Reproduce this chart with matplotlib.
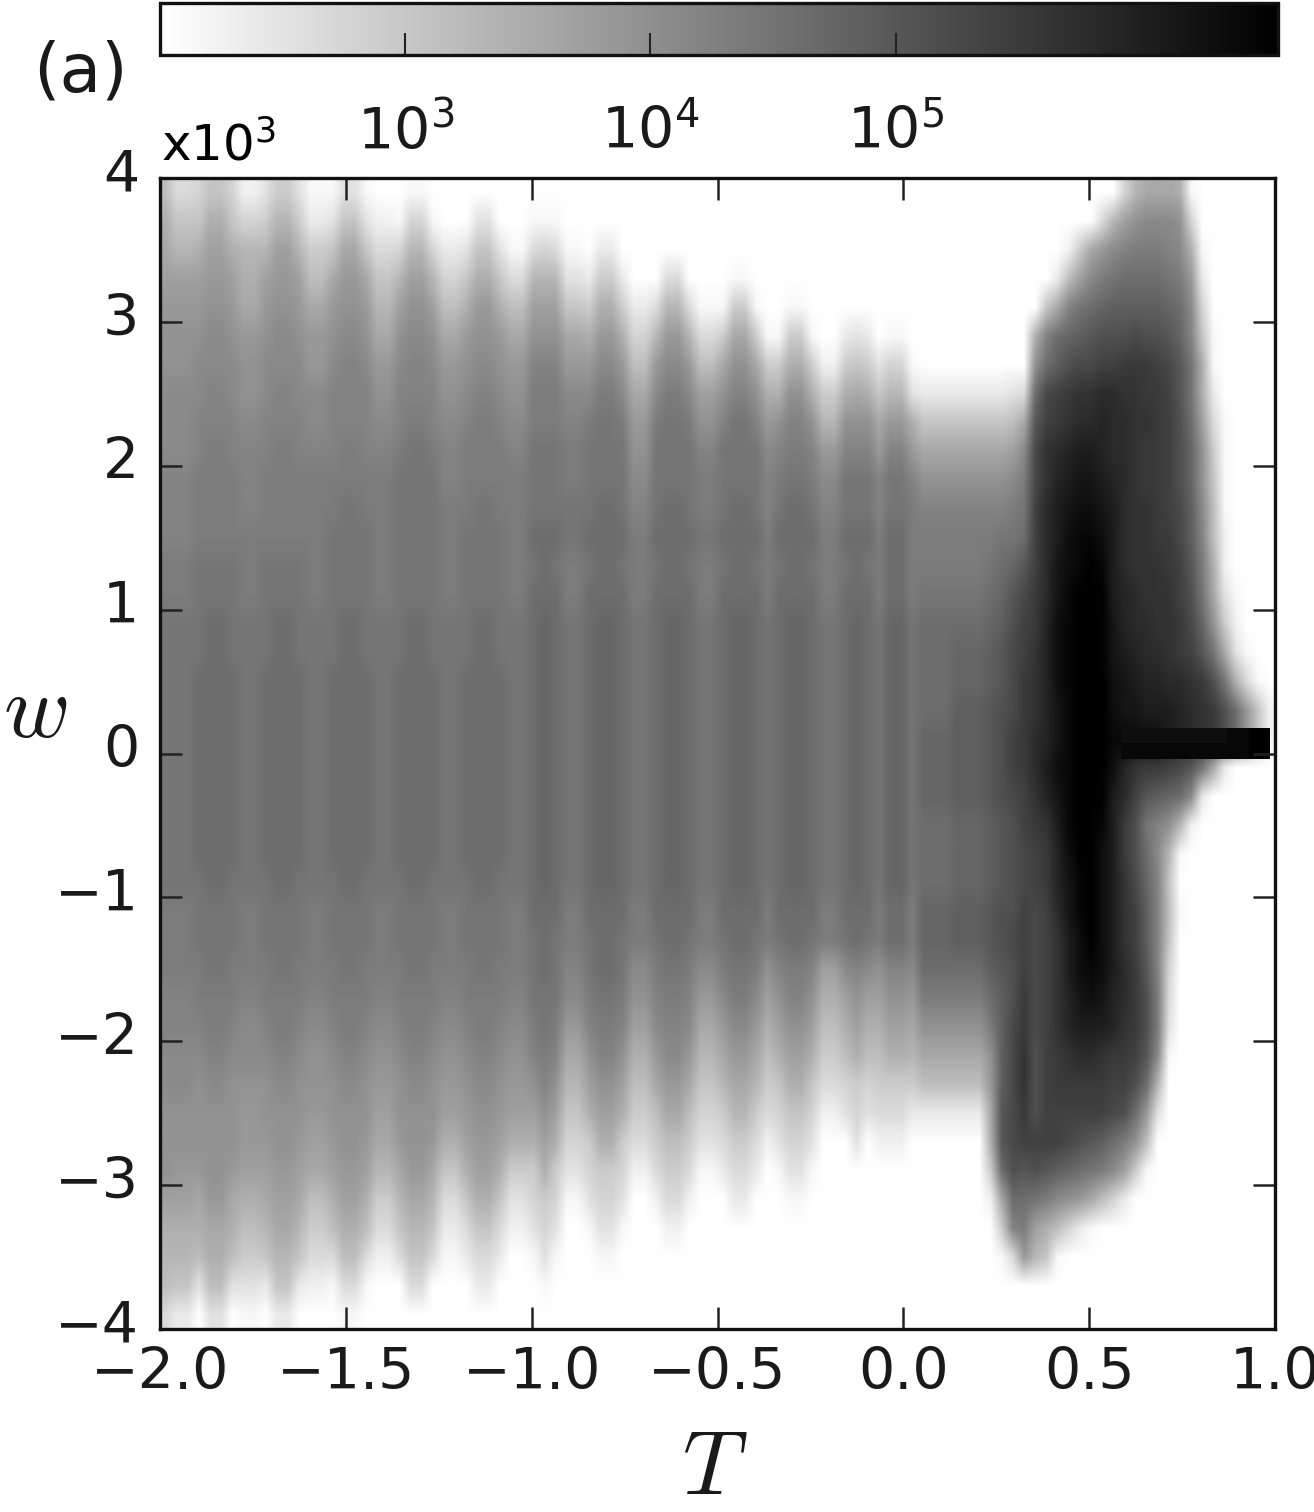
import numpy as np
import matplotlib
matplotlib.use('Agg')
import matplotlib.pyplot as plt
from matplotlib.colors import LogNorm
from matplotlib.transforms import ScaledTranslation

T_range = [-2.0, 1.0]
w_range = [-4.0, 4.0]
T_ticks = [-2.0, -1.5, -1.0, -0.5, 0.0, 0.5, 1.0]
w_ticks = [-4, -3, -2, -1, 0, 1, 2, 3, 4]
cbar_ticks = [1e3, 1e4, 1e5]
log_min = 2.0
log_max = 6.56

# grey levels, one char = base 36 level (0 white, z black)
# left part of the map: stripes, each with a top-to-bottom profile over 40 rows
gap_mid = "iijjjjjjjjjjii"
lobe_l = "jjkkkkkkkkkkjj"
edge_l = "jjjjkkkkkkkjjj"
lobe_r = "kkllllllllllkk"
edge_r = "jkkkkkkkkkkkkj"

stripe_widths = [1, 2, 1, 2, 1, 2, 1, 2, 1, 2, 1, 2, 1, 2, 1, 2, 1, 2, 1, 2, 1, 2, 1, 1, 1, 2,
                 1, 2, 1, 2, 1, 2, 1, 2, 1, 2, 1, 1, 1, 2, 1, 2, 1, 1, 1, 1, 2, 1, 3, 3, 1, 1, 1, 1]
stripe_profiles = [
    "9bcdeffggghhh" + gap_mid + "ihhggfffdba95",
    "58adeffggghhh" + gap_mid + "ihhggffedba83",
    "68bdefgghhiii" + edge_l + "iihgfffecb940",
    "8bdefgghhiiii" + lobe_l + "jiihgfffecb94",
    "68bdefgghhiii" + edge_l + "iihgfffecb940",
    "26abceffghhhi" + gap_mid + "ihggfeedb9741",
    "47adefgghhiii" + edge_l + "iihgffedca830",
    "7adefgghhiiii" + lobe_l + "jiihgffedca83",
    "47adefgghhiii" + edge_l + "iihgffedca830",
    "1379ceegghiii" + gap_mid + "ihgffedc97520",
    "148cefghhhiij" + edge_l + "iihgffedb9510",
    "48cefghhhiijj" + lobe_l + "jiihgffedb951",
    "148cefghhhiij" + edge_l + "iihgffedb9510",
    "0258acefghiii" + gap_mid + "ihgfedca75200",
    "016adfghhijjj" + edge_l + "iihgffeca8500",
    "16adfghhijjjj" + lobe_l + "jiihgffeca850",
    "016adfghhijjj" + edge_l + "iihgffeca8500",
    "00369cefghhii" + gap_mid + "ihgfedb853100",
    "0048befghiiij" + edge_l + "iihgfedb85300",
    "048befghiiijj" + lobe_l + "jiihgfedb8530",
    "0048befghiiij" + edge_l + "iihgfedb85300",
    "00159cefghiii" + gap_mid + "ihgfedb742000",
    "015adfhiijjjk" + edge_r + "jjihfdb764100",
    "016adfhiijjjk" + lobe_r + "kjjihfdb76410",
    "015adfhiijjjk" + edge_r + "jjihfdb764100",
    "00148ceghiijj" + gap_mid + "hgeca86410000",
    "00037begijjjk" + edge_r + "jihfdb7641000",
    "0037begijjjkk" + lobe_r + "kjihfdb764100",
    "00037begijjjk" + edge_r + "jihfdb7641000",
    "0000369cefghi" + gap_mid + "gfdb975200000",
    "00005aegijjjk" + edge_r + "ihgec97520000",
    "0005aegijjjkk" + lobe_r + "jihgec9752000",
    "00005aegijjjk" + edge_r + "ihgec97520000",
    "0000159dfhiij" + gap_mid + "geca864100000",
    "000017cfhjjjk" + edge_r + "igeca75300000",
    "00017cfhjjjkk" + lobe_r + "jigeca7530000",
    "000017cfhjjjk" + edge_r + "igeca75300000",
    "0000017beghhi" + gap_mid + "fdb9752000000",
    "0000017bfhijk" + edge_r + "hfdb864100000",
    "000017bfhijkk" + lobe_r + "ihfdb86410000",
    "0000017bfhijk" + edge_r + "hfdb864100000",
    "00000027aeghi" + gap_mid + "db97520000000",
    "0000037bfhjjk" + edge_r + "gdb9640000000",
    "0000048cfhjjk" + lobe_r + "hfdb764000000",
    "0000037bfhjjk" + edge_r + "gdb9640000000",
    "00000048cehhi" + gap_mid + "fdb9752000000",
    "0000016aehjjk" + lobe_r + "hfdb752000000",
    "00000014behii" + gap_mid + "geca730000000",
    "000000038cfhi" + "ijkkkklllkkkll" + "kifc930000000",
    "000000038cfhi" + "ijkllmmmmlllmm" + "kifc930000000",
    "000000038cfhi" + "jklmmnnnnmmmnn" + "mkifecb720000",
    "000000038cfhj" + "klmnnoooonnnoo" + "nmmmmnnkc7100",
    "000000049dgij" + "lnopppqqpoooop" + "oopppppokh500",
    "00000005cgijk" + "npqqrrrrqqppqq" + "qrrssrqnkie00",
]

# right part of the map: one row per line, one char per column
right_rows = [
    "000000006acccb1",
    "0000005adfgggf6",
    "00027ceghiiihgb1",
    "0039dgijkkkkjie3",
    "08chjklmmmmmlkg6",
    "bhklmnooopoonlh81",
    "fkmoppqqrrrqpnjb1",
    "kpqrssttssrrqnjb3",
    "nqrsttuttssrqokd51",
    "pstuvvuttsrrqolf71",
    "psuvwwvutsrrqolf81",
    "qtvwxxwvtssrqpmg91",
    "qtvxyyxvtssrrpmh92",
    "qtwxyzyvtsssrqnib2",
    "rtwyzzzvutsssqojc41",
    "ruxyzzzwuttssrplf72",
    "suxyzzzwvuttsrqnjc41",
    "suxyzzzxwvuuttsrojb51",
    "suwyzzzxwwvvvutsroke82",
    "tuwyzzzyyxxxvutsroke82",
    "tvxyzzzxusrrqpnjc3",
    "suwyzzzvtqnmlkg3",
    "rsvyzzyvrojhfa2",
    "qruxzzxvrokga1",
    "qruwyzxvsplh8",
    "pqtwyzxvsqmh91",
    "pqsvxzxvsqmh8",
    "pqsvxyxvtrnh6",
    "pqsuwxwutroi5",
    "pqsuvvvusroi4",
    "oqrsttsrrqng1",
    "oqrrrrrqqoka",
    "oqqqqqqpoke4",
    "qqqponmkif9",
    "onmlkjigd71",
    "jigfec963",
    "db9631",
    "a81",
    "",
    "",
]

# the thin black bar at w ~ 0 on the right, two cell rows
bar_rows = [
    "xxxxxxxxxxyyzz",
    "yyyyyyyyyyyyzz",
]
bar_T = [0.585, 0.985]
bar_w = [-0.04, 0.175]


def to_counts(chars):
    return 10 ** (log_min + np.array([int(ch, 36) for ch in chars], dtype=float) / 35 * (log_max - log_min))


left = np.array([to_counts(p.ljust(40, '0')[:40]) for p in stripe_profiles]).T
left = np.repeat(left, stripe_widths, axis=1)
right = np.array([to_counts(r.ljust(22, '0')) for r in right_rows])
counts = np.hstack([left, right])
bar_counts = np.array([to_counts(r) for r in bar_rows])

W, H = 1314, 1512
fig = plt.figure(figsize=(W / 100, H / 100), dpi=100)


def px_axes(x0, y0, x1, y1):
    return fig.add_axes([x0 / W, 1 - y1 / H, (x1 - x0) / W, (y1 - y0) / H])


ax = px_axes(160, 178, 1275, 1329)
cax = px_axes(160, 3, 1278, 55)

norm = LogNorm(vmin=10 ** log_min, vmax=10 ** log_max)
im = ax.imshow(counts, cmap='gray_r', norm=norm, aspect='auto', interpolation='bilinear',
               interpolation_stage='rgba', extent=[T_range[0], T_range[1], w_range[0], w_range[1]])
ax.imshow(bar_counts, cmap='gray_r', norm=norm, aspect='auto', interpolation='nearest',
          extent=[bar_T[0], bar_T[1], bar_w[0], bar_w[1]])

ax.set_xlim(T_range)
ax.set_ylim(w_range)
ax.set_xticks(T_ticks)
ax.set_yticks(w_ticks)
ax.tick_params(direction='in', length=16, width=1.8, labelsize=41, top=True, right=True,
               color='#222222', labelcolor='#1a1a1a')
ax.tick_params(axis='x', pad=12)
ax.tick_params(axis='y', pad=15)
for s in ax.spines.values():
    s.set_linewidth(2.4)
    s.set_color('#111111')
for lab in ax.get_yticklabels():
    lab.set_transform(lab.get_transform() + ScaledTranslation(0, 8 / 100, fig.dpi_scale_trans))

cb = fig.colorbar(im, cax=cax, orientation='horizontal')
cb.set_ticks(cbar_ticks)
cb.minorticks_off()
cax.tick_params(direction='in', length=16, width=1.5, labelsize=41, pad=36, color='#222222', labelcolor='#1a1a1a')
cb.outline.set_linewidth(2.4)
cb.outline.set_edgecolor('#111111')

fig.text(35 / W, 1 - 712 / H, r'$w$', fontsize=65, ha='center', va='center', math_fontfamily='cm', color='#1a1a1a')
fig.text(715 / W, 1 - 1469 / H, r'$T$', fontsize=65, ha='center', va='center', math_fontfamily='cm', color='#1a1a1a')
fig.text(80 / W, 1 - 72 / H, '(a)', fontsize=49, ha='center', va='center', color='#1a1a1a')
fig.text(161 / W, 1 - 160 / H, r'x$\mathdefault{10^{3}}$', fontsize=36, ha='left', va='baseline',
         math_fontfamily='dejavusans')

fig.savefig('out.png', dpi=100)
